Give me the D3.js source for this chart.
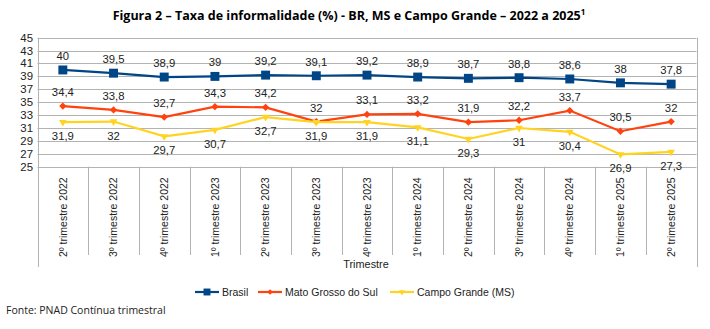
<!DOCTYPE html>
<html>
<head>
<meta charset="utf-8">
<script src="https://cdn.jsdelivr.net/npm/d3@7"></script>
<style>
  body { margin: 0; background: #fff; }
  svg { display: block; }
</style>
</head>
<body>
<div id="chart"></div>
<script>
const quarters = [
  "2º trimestre 2022", "3º trimestre 2022", "4º trimestre 2022",
  "1º trimestre 2023", "2º trimestre 2023", "3º trimestre 2023", "4º trimestre 2023",
  "1º trimestre 2024", "2º trimestre 2024", "3º trimestre 2024", "4º trimestre 2024",
  "1º trimestre 2025", "2º trimestre 2025"
];
const brasil = [40, 39.5, 38.9, 39, 39.2, 39.1, 39.2, 38.9, 38.7, 38.8, 38.6, 38, 37.8];
const matoGrosso = [34.4, 33.8, 32.7, 34.3, 34.2, 32, 33.1, 33.2, 31.9, 32.2, 33.7, 30.5, 32];
const campoGrande = [31.9, 32, 29.7, 30.7, 32.7, 31.9, 31.9, 31.1, 29.3, 31, 30.4, 26.9, 27.3];
const yTicks = [25, 27, 29, 31, 33, 35, 37, 39, 41, 43, 45];

const series = [
  { name: "Brasil", values: brasil, color: "#004586", symbol: d3.symbolSquare, size: 80, rotate: 0, labelDy: -14 },
  { name: "Mato Grosso do Sul", values: matoGrosso, color: "#ff420e", symbol: d3.symbolDiamond2, size: 34, rotate: 0, labelDy: -14 },
  { name: "Campo Grande (MS)", values: campoGrande, color: "#ffd320", symbol: d3.symbolTriangle2, size: 42, rotate: 180, labelDy: 14 }
];

const width = 710, height = 329;
const plot = { left: 37.5, right: 696.5, top: 37.7, bottom: 166.7 };

const svg = d3.select("#chart").append("svg")
    .attr("width", width)
    .attr("height", height)
    .style("font-family", "'Liberation Sans', Arial, sans-serif");

svg.append("text")
    .attr("x", 349)
    .attr("y", 20)
    .attr("text-anchor", "middle")
    .style("font-family", "'Open Sans', sans-serif")
    .style("font-weight", "bold")
    .style("font-size", "12.5px")
    .text("Figura 2 – Taxa de informalidade (%) - BR, MS e Campo Grande – 2022 a 2025")
  .append("tspan")
    .attr("dy", -5)
    .style("font-size", "8px")
    .text("1");

const x = d3.scaleBand()
    .domain(quarters)
    .range([plot.left, plot.right]);

const y = d3.scaleLinear()
    .domain([25, 45])
    .range([plot.bottom, plot.top]);

// horizontal gridlines
svg.append("g")
  .selectAll("line")
  .data(yTicks)
  .join("line")
    .attr("x1", plot.left)
    .attr("x2", plot.right)
    .attr("y1", d => Math.round(y(d)) + 0.5)
    .attr("y2", d => Math.round(y(d)) + 0.5)
    .attr("stroke", "#b3b3b3")
    .attr("stroke-width", 1);

// y tick labels
svg.append("g")
  .selectAll("text")
  .data(yTicks)
  .join("text")
    .attr("x", 33)
    .attr("y", d => y(d))
    .attr("dy", "0.35em")
    .attr("text-anchor", "end")
    .attr("fill", "#222")
    .style("font-size", "11.4px")
    .text(d => d);

// category separators: outer ones frame the plot, inner ones only below it
const edges = quarters.map(q => x(q)).concat([plot.right]);
const isOuter = i => i === 0 || i === edges.length - 1;
svg.append("g")
  .selectAll("line")
  .data(edges)
  .join("line")
    .attr("x1", d => Math.round(d) + 0.5)
    .attr("x2", d => Math.round(d) + 0.5)
    .attr("y1", (d, i) => isOuter(i) ? plot.top : plot.bottom)
    .attr("y2", (d, i) => isOuter(i) ? 267 : 255)
    .attr("stroke", "#b3b3b3")
    .attr("stroke-width", 1);

// rotated category labels
svg.append("g")
  .selectAll("text")
  .data(quarters)
  .join("text")
    .attr("transform", d => `translate(${x(d) + x.bandwidth() / 2 + 3.7},257) rotate(-90)`)
    .attr("text-anchor", "start")
    .attr("fill", "#222")
    .style("font-size", "10.5px")
    .text(d => d);

svg.append("text")
    .attr("x", 366)
    .attr("y", 268)
    .attr("text-anchor", "middle")
    .attr("fill", "#222")
    .style("font-size", "10.9px")
    .text("Trimestre");

const line = d3.line()
    .x((d, i) => x(quarters[i]) + x.bandwidth() / 2)
    .y(d => y(d));

series.forEach(s => {
  const g = svg.append("g");
  g.append("path")
      .datum(s.values)
      .attr("fill", "none")
      .attr("stroke", s.color)
      .attr("stroke-width", 2.2)
      .attr("d", line);
  g.selectAll("path.mark")
    .data(s.values)
    .join("path")
      .attr("class", "mark")
      .attr("transform", (d, i) => `translate(${x(quarters[i]) + x.bandwidth() / 2},${y(d)}) rotate(${s.rotate})`)
      .attr("d", d3.symbol(s.symbol, s.size))
      .attr("fill", s.color);
  g.selectAll("text")
    .data(s.values)
    .join("text")
      .attr("x", (d, i) => x(quarters[i]) + x.bandwidth() / 2)
      .attr("y", d => y(d) + s.labelDy)
      .attr("dy", "0.35em")
      .attr("text-anchor", "middle")
      .attr("fill", "#222")
      .style("font-size", "11.3px")
      .text(d => String(d).replace(".", ","));
});

// legend
const legendX = [195, 258, 390];
const legend = svg.append("g")
  .selectAll("g")
  .data(series)
  .join("g")
    .attr("transform", (d, i) => `translate(${legendX[i]},292)`);
legend.append("line")
    .attr("x1", 0).attr("x2", 24)
    .attr("stroke", d => d.color)
    .attr("stroke-width", 2.2);
legend.append("path")
    .attr("transform", d => `translate(12,0) rotate(${d.rotate})`)
    .attr("d", d => d3.symbol(d.symbol, d.size * 0.6)())
    .attr("fill", d => d.color);
legend.append("text")
    .attr("x", 27)
    .attr("dy", "0.35em")
    .attr("fill", "#222")
    .style("font-size", "10.5px")
    .text(d => d.name);

svg.append("text")
    .attr("x", 6)
    .attr("y", 314)
    .attr("fill", "#222")
    .style("font-family", "'Open Sans', sans-serif")
    .style("font-size", "10.5px")
    .text("Fonte: PNAD Contínua trimestral");
</script>
</body>
</html>
